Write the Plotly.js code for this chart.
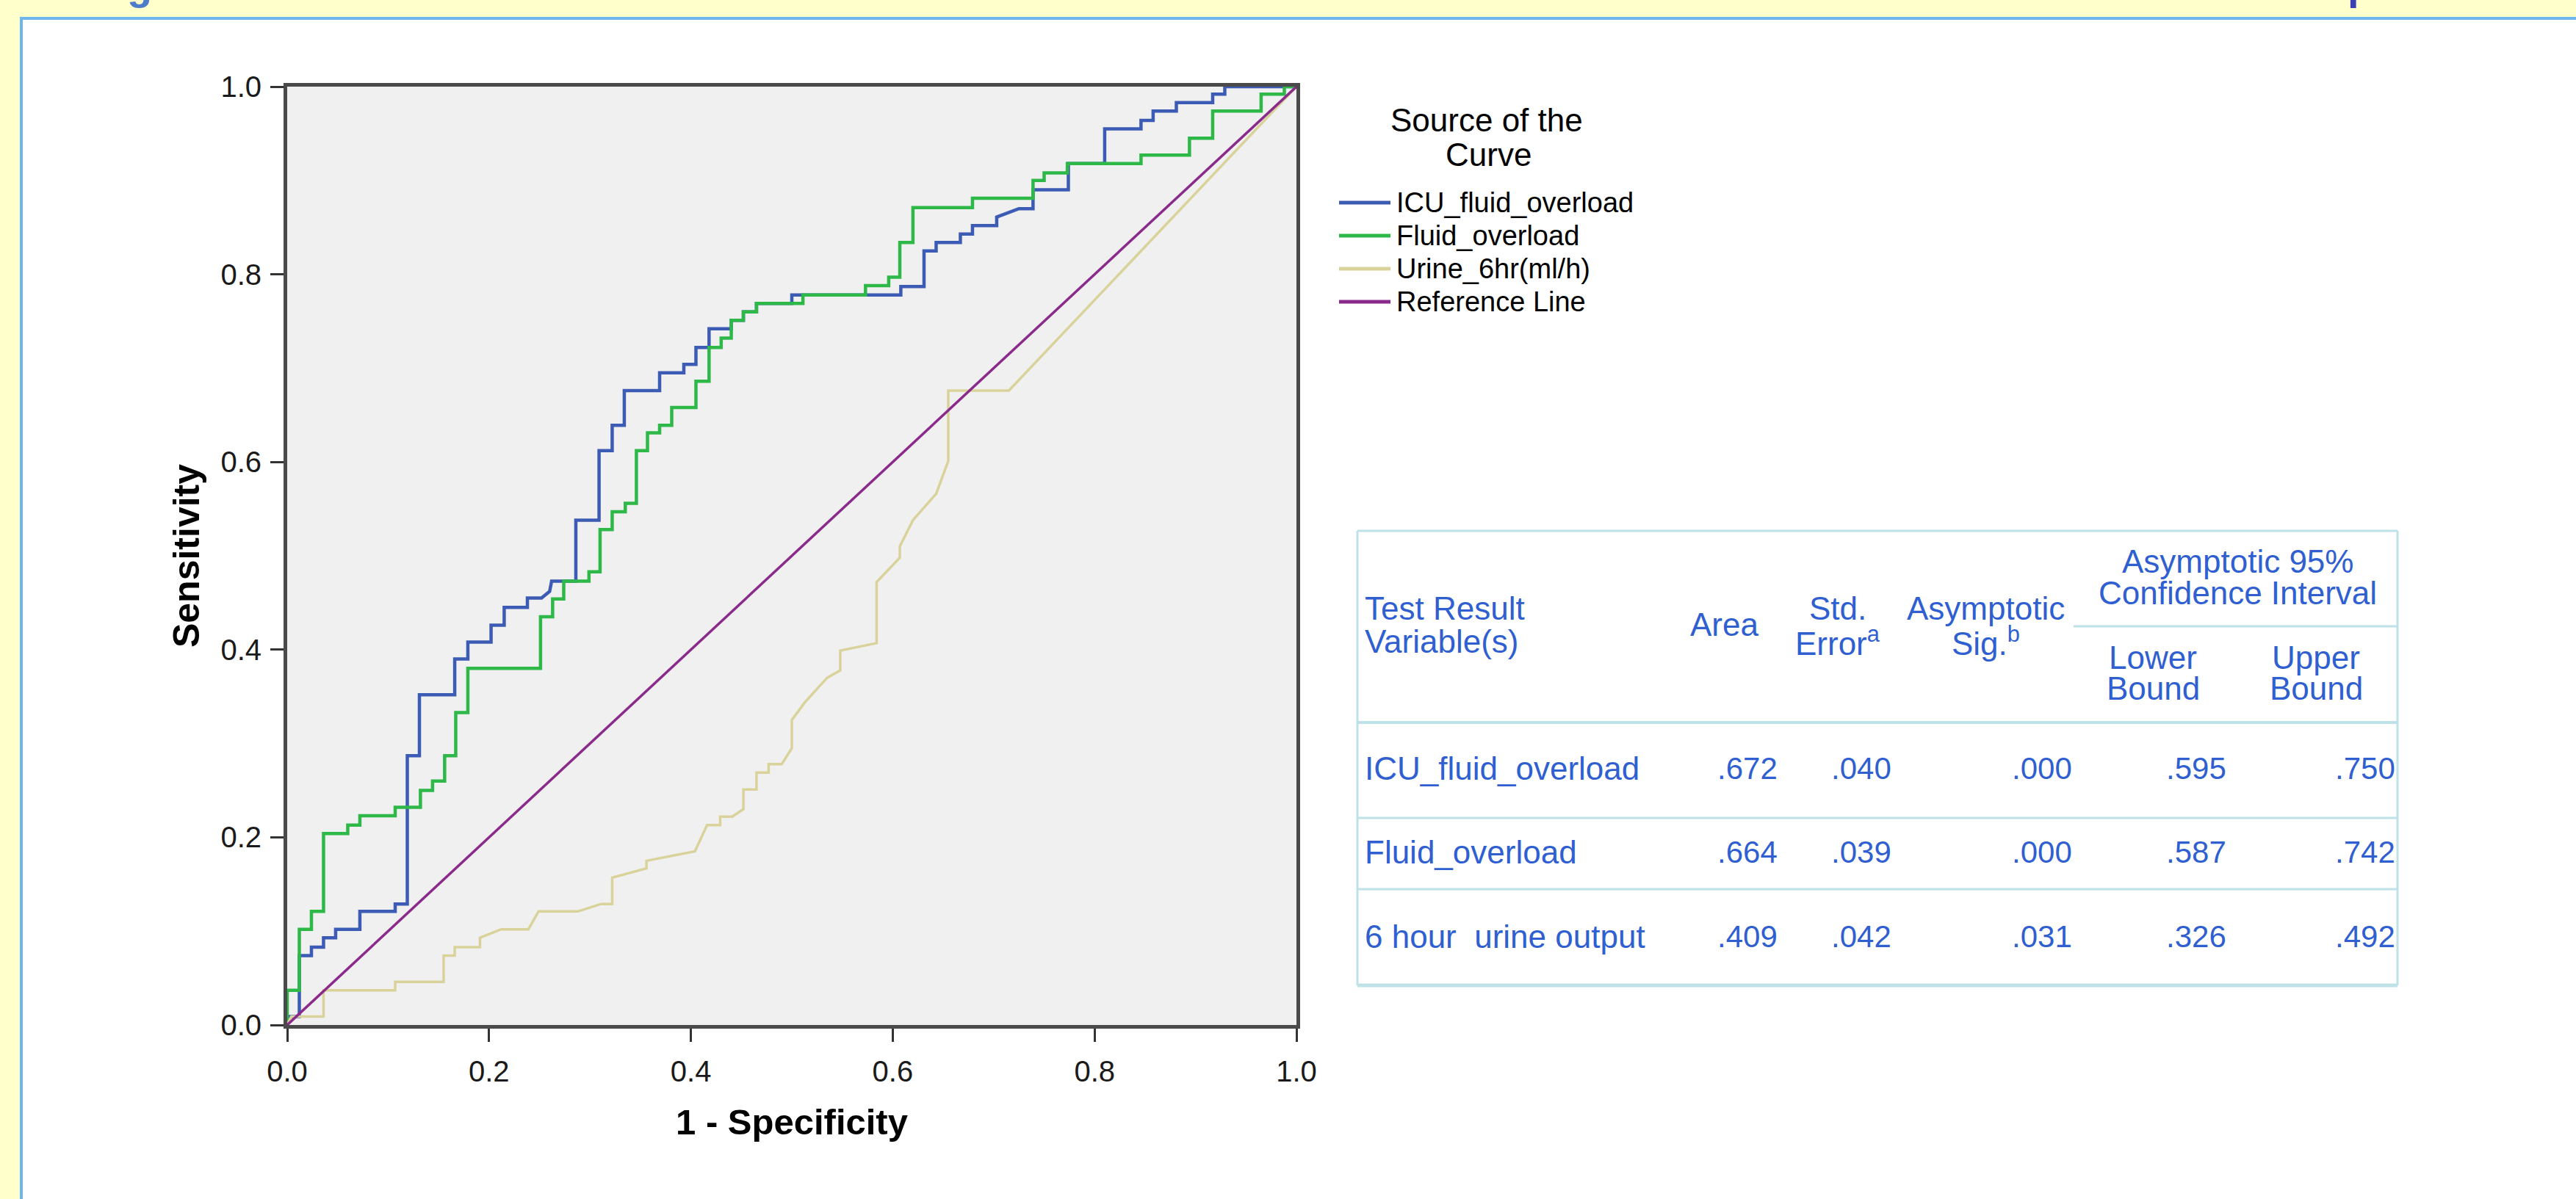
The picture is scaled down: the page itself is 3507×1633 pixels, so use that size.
<!DOCTYPE html>
<html>
<head>
<meta charset="utf-8">
<script src="https://cdn.plot.ly/plotly-3.0.1.min.js"></script>
<style>
html,body{margin:0;padding:0;background:#ffffff;}
#chart{width:3507px;height:1633px;}
</style>
</head>
<body>
<div id="chart"></div>
<script>
// ---------------- DATA ----------------
const seriesNames = ['ICU_fluid_overload', 'Fluid_overload', 'Urine_6hr(ml/h)', 'Reference Line'];

const icuFpr = [0,0,0.012,0.012,0.024,0.024,0.036,0.036,0.048,0.048,0.072,0.072,0.107,0.107,0.119,0.119,0.131,0.131,0.166,0.166,0.179,0.179,0.202,0.202,0.215,0.215,0.238,0.238,0.252,0.260,0.262,0.286,0.286,0.309,0.309,0.322,0.322,0.334,0.334,0.369,0.369,0.393,0.393,0.405,0.405,0.418,0.418,0.440,0.440,0.452,0.452,0.465,0.465,0.500,0.500,0.608,0.608,0.631,0.631,0.643,0.643,0.667,0.667,0.679,0.679,0.703,0.703,0.725,0.739,0.739,0.774,0.774,0.810,0.810,0.846,0.846,0.858,0.858,0.881,0.881,0.917,0.917,0.929,0.929,1];
const icuTpr = [0,0.009,0.009,0.074,0.074,0.083,0.083,0.093,0.093,0.102,0.102,0.121,0.121,0.129,0.129,0.287,0.287,0.352,0.352,0.390,0.390,0.408,0.408,0.426,0.426,0.445,0.445,0.455,0.455,0.462,0.473,0.473,0.538,0.538,0.612,0.612,0.639,0.639,0.676,0.676,0.695,0.695,0.704,0.704,0.722,0.722,0.742,0.742,0.751,0.751,0.760,0.760,0.769,0.769,0.778,0.778,0.787,0.787,0.825,0.825,0.834,0.834,0.843,0.843,0.852,0.852,0.861,0.870,0.870,0.890,0.890,0.918,0.918,0.955,0.955,0.964,0.964,0.974,0.974,0.983,0.983,0.992,0.992,1,1];

const fluidFpr = [0,0,0.012,0.012,0.024,0.024,0.036,0.036,0.060,0.060,0.072,0.072,0.107,0.107,0.132,0.132,0.144,0.144,0.156,0.156,0.167,0.167,0.179,0.179,0.251,0.251,0.263,0.263,0.274,0.274,0.299,0.299,0.310,0.310,0.322,0.322,0.335,0.335,0.346,0.346,0.357,0.357,0.369,0.369,0.381,0.381,0.405,0.405,0.418,0.418,0.430,0.430,0.440,0.440,0.452,0.452,0.465,0.465,0.511,0.511,0.573,0.573,0.596,0.596,0.607,0.607,0.620,0.620,0.679,0.679,0.739,0.739,0.750,0.750,0.773,0.773,0.846,0.846,0.894,0.894,0.917,0.917,0.965,0.965,0.988,0.988,1];
const fluidTpr = [0,0.037,0.037,0.102,0.102,0.121,0.121,0.204,0.204,0.213,0.213,0.223,0.223,0.232,0.232,0.250,0.250,0.260,0.260,0.287,0.287,0.333,0.333,0.380,0.380,0.435,0.435,0.454,0.454,0.473,0.473,0.483,0.483,0.528,0.528,0.547,0.547,0.556,0.556,0.612,0.612,0.631,0.631,0.639,0.639,0.658,0.658,0.686,0.686,0.722,0.722,0.732,0.732,0.751,0.751,0.760,0.760,0.769,0.769,0.778,0.778,0.788,0.788,0.797,0.797,0.834,0.834,0.871,0.871,0.881,0.881,0.900,0.900,0.908,0.908,0.918,0.918,0.927,0.927,0.945,0.945,0.974,0.974,0.992,0.992,1,1];

const urineFpr = [0,0.004,0.036,0.036,0.107,0.107,0.155,0.155,0.166,0.166,0.191,0.191,0.212,0.239,0.249,0.288,0.311,0.322,0.322,0.356,0.356,0.404,0.416,0.429,0.429,0.441,0.452,0.452,0.465,0.465,0.477,0.477,0.490,0.500,0.500,0.513,0.535,0.548,0.548,0.584,0.584,0.607,0.607,0.620,0.643,0.651,0.655,0.655,0.715,1];
const urineTpr = [0,0.009,0.009,0.037,0.037,0.046,0.046,0.074,0.074,0.083,0.083,0.093,0.102,0.102,0.121,0.121,0.129,0.129,0.157,0.167,0.175,0.185,0.213,0.213,0.222,0.222,0.230,0.251,0.251,0.269,0.269,0.278,0.278,0.295,0.325,0.344,0.370,0.378,0.399,0.407,0.472,0.498,0.510,0.538,0.566,0.590,0.601,0.676,0.676,1];

const refFpr = [0, 1];
const refTpr = [0, 1];

const tickVals = [0, 0.2, 0.4, 0.6, 0.8, 1.0];

// table (Area Under the Curve)
const testVariables = ['ICU_fluid_overload', 'Fluid_overload', '6 hour  urine output'];
const areaVals   = [0.672, 0.664, 0.409];
const stdErrVals = [0.040, 0.039, 0.042];
const sigVals    = [0.000, 0.000, 0.031];
const lowerVals  = [0.595, 0.587, 0.326];
const upperVals  = [0.750, 0.742, 0.492];

// ---------------- STYLE / LAYOUT HELPERS ----------------
const FONT = 'Liberation Sans, Arial, Helvetica, sans-serif';
const colors = ['#3c5bb4', '#2eb848', '#d9d39b', '#8a2a8a'];
const widths = [4.5, 4.5, 3.5, 3.5];

const PW = 3507, PH = 1633;
const L = 391, R = 1765, T = 118, B = 1396;
const W = R - L, H = B - T;
const px = X => (X - L) / W;
const py = Y => (B - Y) / H;

const fmt3 = v => v.toFixed(3).replace(/^0/, '');

const traces = [
  {x: icuFpr, y: icuTpr, name: seriesNames[0]},
  {x: fluidFpr, y: fluidTpr, name: seriesNames[1]},
  {x: urineFpr, y: urineTpr, name: seriesNames[2]},
  {x: refFpr, y: refTpr, name: seriesNames[3]}
].map((t, i) => Object.assign(t, {
  type: 'scatter', mode: 'lines',
  line: {color: colors[i], width: widths[i], shape: 'linear'},
  hoverinfo: 'x+y+name'
}));

const shapes = [];
const annotations = [];

function rect(x0, y0, x1, y1, fill) {
  shapes.push({type: 'rect', xref: 'paper', yref: 'paper', layer: 'above',
    x0: px(x0), x1: px(x1), y0: py(y1), y1: py(y0), fillcolor: fill, line: {width: 0}});
}
function seg(x0, y0, x1, y1, color, w) {
  shapes.push({type: 'line', xref: 'paper', yref: 'paper', layer: 'above',
    x0: px(x0), x1: px(x1), y0: py(y0), y1: py(y1), line: {color: color, width: w}});
}
function txt(text, X, Y, xanchor, size, color, extra) {
  annotations.push(Object.assign({xref: 'paper', yref: 'paper', x: px(X), y: py(Y),
    text: text, showarrow: false, xanchor: xanchor, yanchor: 'middle', borderpad: 0,
    font: {family: FONT, size: size, color: color}}, extra || {}));
}

// page frame (yellow strip + blue rule of the source page)
rect(0, 0, PW, 24, '#ffffcc');
rect(0, 24, 28, PH, '#ffffcc');
rect(28, 23, PW, 27, '#6fb6ee');
rect(27, 23, 31, PH, '#6fb6ee');
// clipped fragments of the page heading above
annotations.push({xref: 'paper', yref: 'paper', x: px(190), y: py(12), xanchor: 'center', yanchor: 'bottom',
  text: '<b>g</b>', showarrow: false, borderpad: 0, font: {family: FONT, size: 56, color: '#4d7cc9'}});
annotations.push({xref: 'paper', yref: 'paper', x: px(3195), y: py(12), xanchor: 'left', yanchor: 'bottom',
  text: '<b>p</b>', showarrow: false, borderpad: 0, font: {family: FONT, size: 56, color: '#3a3fb5'}});

// legend (drawn by hand to match the original spacing)
txt('Source of the', 2024, 164, 'center', 44, '#000');
txt('Curve', 2026, 210, 'center', 44, '#000');
const legY = [276, 321, 366, 411];
seriesNames.forEach((n, i) => {
  seg(1823, legY[i], 1893, legY[i], colors[i], 5);
  txt(n, 1900, legY[i], 'left', 38, '#000');
});

// table
const TC = '#bfe2e8';
const tblL = 1848, tblR = 3264, tblT = 723, tblB = 1342;
seg(tblL, tblT, tblR, tblT, TC, 3);
seg(tblL, tblT, tblL, tblB, TC, 3);
seg(tblR, tblT, tblR, tblB, TC, 3);
seg(tblL, tblB, tblR, tblB, TC, 5);
seg(2823, 853, tblR, 853, TC, 3);
seg(tblL, 984, tblR, 984, TC, 4);
seg(tblL, 1114, tblR, 1114, TC, 3);
seg(tblL, 1211, tblR, 1211, TC, 3);

const TXT = '#2f5fd0', TS = 44, NS = 42;
txt('Test Result', 1857, 829, 'left', TS, TXT);
txt('Variable(s)', 1857, 873, 'left', TS, TXT);
txt('Area', 2347, 851, 'center', TS, TXT);
txt('Std.', 2502, 829, 'center', TS, TXT);
txt('Error<sup>a</sup>', 2502, 873, 'center', TS, TXT);
txt('Asymptotic', 2703, 829, 'center', TS, TXT);
txt('Sig.<sup>b</sup>', 2703, 873, 'center', TS, TXT);
txt('Asymptotic 95%', 3046, 764, 'center', TS, TXT);
txt('Confidence Interval', 3046, 807, 'center', TS, TXT);
txt('Lower', 2931, 895, 'center', TS, TXT);
txt('Bound', 2931, 938, 'center', TS, TXT);
txt('Upper', 3153, 895, 'center', TS, TXT);
txt('Bound', 3153, 938, 'center', TS, TXT);

const rowY = [1046, 1160, 1275];
const colRight = [2421, 2576, 2822, 3032, 3262];
testVariables.forEach((v, r) => {
  txt(v.replace(/  /g, ' \u00a0'), 1857, rowY[r], 'left', TS, TXT);
  [areaVals, stdErrVals, sigVals, lowerVals, upperVals].forEach((arr, c) => {
    txt(fmt3(arr[r]), colRight[c], rowY[r], 'right', NS, TXT);
  });
});

const axisCommon = {
  range: [0, 1], tickvals: tickVals, tickformat: '.1f',
  ticks: 'outside', ticklen: 18, tickwidth: 3, tickcolor: '#333',
  showline: true, linewidth: 5, linecolor: '#4a4a4a', mirror: true,
  showgrid: false, zeroline: false, fixedrange: true,
  tickfont: {family: FONT, size: 40, color: '#1a1a1a'}
};

const layout = {
  width: PW, height: PH,
  margin: {l: L, r: PW - R, t: T, b: PH - B, pad: 0},
  paper_bgcolor: '#ffffff', plot_bgcolor: '#f0f0f0',
  showlegend: false,
  font: {family: FONT, color: '#000'},
  xaxis: Object.assign({}, axisCommon, {
    ticklabelstandoff: 6,
    title: {text: '1 - Specificity', standoff: 32, font: {family: FONT, size: 49, color: '#000', weight: 'bold'}}
  }),
  yaxis: Object.assign({}, axisCommon, {
    ticklabelstandoff: 4,
    title: {text: 'Sensitivity', standoff: 14, font: {family: FONT, size: 50, color: '#000', weight: 'bold'}}
  }),
  shapes: shapes,
  annotations: annotations
};

Plotly.newPlot('chart', traces, layout, {displayModeBar: false, staticPlot: true});
</script>
</body>
</html>
